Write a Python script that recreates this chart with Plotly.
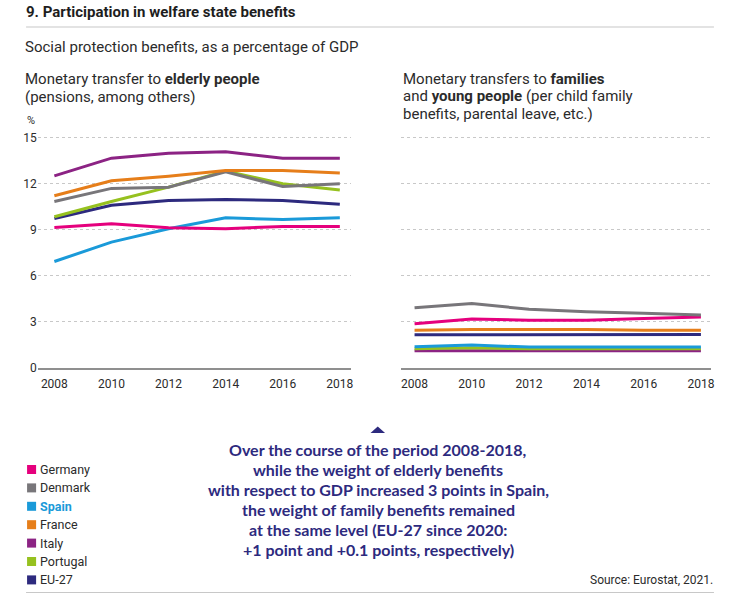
import plotly.graph_objects as go

# target picture is 729x600; the photographed area comes out about 735x609,
# so the figure is made that size and every position is given as a fraction of 729x600
REF_W, REF_H = 729, 600
W, H = 735, 609
Y_NUDGE = 1.5  # small downward drift seen in the photographs

years = [2008, 2010, 2012, 2014, 2016, 2018]
countries = ["Germany", "Denmark", "Spain", "France", "Italy", "Portugal", "EU-27"]
colors = ["#e5007d", "#78767a", "#1a9ad9", "#e67e1a", "#8c2384", "#96c11f", "#2d2a7e"]

# elderly people, % of GDP
elderly_germany = [9.15, 9.39, 9.13, 9.07, 9.22, 9.22]
elderly_denmark = [10.85, 11.7, 11.78, 12.78, 11.83, 12.0]
elderly_spain = [6.93, 8.2, 9.07, 9.78, 9.67, 9.78]
elderly_france = [11.22, 12.2, 12.5, 12.87, 12.87, 12.7]
elderly_italy = [12.52, 13.67, 14.0, 14.09, 13.67, 13.67]
elderly_portugal = [9.85, 10.85, 11.78, 12.83, 12.0, 11.6]
elderly_eu27 = [9.74, 10.6, 10.91, 10.98, 10.91, 10.67]

# families and young people, % of GDP
family_germany = [2.88, 3.19, 3.1, 3.1, 3.21, 3.32]
family_denmark = [3.91, 4.19, 3.82, 3.65, 3.56, 3.45]
family_spain = [1.38, 1.48, 1.35, 1.35, 1.35, 1.35]
family_france = [2.45, 2.5, 2.5, 2.5, 2.45, 2.45]
family_italy = [1.11, 1.12, 1.13, 1.13, 1.12, 1.12]
family_portugal = [1.24, 1.3, 1.24, 1.24, 1.24, 1.24]
family_eu27 = [2.16, 2.17, 2.17, 2.17, 2.17, 2.17]

y_ticks = [0, 3, 6, 9, 12, 15]

elderly = [elderly_germany, elderly_denmark, elderly_spain, elderly_france,
           elderly_italy, elderly_portugal, elderly_eu27]
family = [family_germany, family_denmark, family_spain, family_france,
          family_italy, family_portugal, family_eu27]


# pixel in the target picture -> paper coords
def px(x):
    return x / REF_W


def py(y):
    return 1 - (y - Y_NUDGE) / REF_H


FONT = "Roboto"
TXT = "#2b2b2b"

fig = go.Figure()

for i in [2, 0, 6, 5, 1, 3, 4]:
    fig.add_trace(go.Scatter(x=years, y=elderly[i], mode="lines", name=countries[i],
                             line=dict(color=colors[i], width=3), xaxis="x", yaxis="y",
                             showlegend=False))
for i in [4, 5, 2, 6, 3, 0, 1]:
    fig.add_trace(go.Scatter(x=years, y=family[i], mode="lines", name=countries[i],
                             line=dict(color=colors[i], width=3), xaxis="x2", yaxis="y2",
                             showlegend=False))

y_top = 137.3 - 0.3 * 15.33
axis_common = dict(tickvals=years, showgrid=False,
                   showline=True, linecolor="#8f8f8f", linewidth=1.5,
                   ticks="", ticklabelstandoff=4,
                   tickfont=dict(family=FONT, size=12, color=TXT), fixedrange=True)
yaxis_common = dict(range=[0, 15.3], tickvals=y_ticks, showgrid=True, gridcolor="#c8c8c8",
                    griddash="dot", gridwidth=1, zeroline=False, ticks="",
                    tickfont=dict(family=FONT, size=12, color=TXT), fixedrange=True)

fig.update_layout(
    width=W, height=H,
    margin=dict(l=0, r=0, t=0, b=0, pad=0),
    paper_bgcolor="white", plot_bgcolor="white",
    showlegend=False,
    xaxis=dict(domain=[px(37.7), px(350)], anchor="y", range=[2007.42, 2018.39], **axis_common),
    yaxis=dict(domain=[py(367.3), py(y_top)], anchor="x", showticklabels=True, **yaxis_common),
    xaxis2=dict(domain=[px(400), px(709)], anchor="y2", range=[2007.53, 2018.35], **axis_common),
    yaxis2=dict(domain=[py(367.3), py(y_top)], anchor="x2", showticklabels=False, **yaxis_common),
)


def note(x, y, text, size=15, color=TXT, xanchor="left", yanchor="middle", family=FONT, align="left"):
    fig.add_annotation(x=px(x), y=py(y), xref="paper", yref="paper", text=text,
                       showarrow=False, xanchor=xanchor, yanchor=yanchor, align=align,
                       font=dict(family=family, size=size, color=color), borderpad=0)


note(25, 12, "<b>9. Participation in welfare state benefits</b>", size=15, color="#1e1e1e")
fig.add_shape(type="line", xref="paper", yref="paper", x0=px(26), x1=px(712), y0=py(26.5), y1=py(26.5),
              line=dict(color="#c8c8c8", width=1.2))
note(24, 46, "Social protection benefits, as a percentage of GDP")

left_title = ["Monetary transfer to <b>elderly people</b>", "(pensions, among others)"]
for k, line in enumerate(left_title):
    note(24, 79 + k * 17.5, line)
right_title = ["Monetary transfers to <b>families</b>",
               "and <b>young people</b> (per child family",
               "benefits, parental leave, etc.)"]
for k, line in enumerate(right_title):
    note(401, 78.5 + k * 17.5, line)
note(26, 120, "%", size=11)

# legend
for k, name in enumerate(countries):
    yc = 469 + k * 18.4
    fig.add_shape(type="rect", xref="paper", yref="paper", x0=px(27), x1=px(36),
                  y0=py(yc + 4.5), y1=py(yc - 4.5), fillcolor=colors[k], line=dict(width=0))
    label = "<b>%s</b>" % name if name == "Spain" else name
    note(39, yc, label, size=12.5, color=colors[k] if name == "Spain" else TXT)

# callout
fig.add_shape(type="path", xref="paper", yref="paper",
              path="M %f,%f L %f,%f L %f,%f Z" % (px(369.5), py(432.5), px(384), py(432.5),
                                                  px(376.7), py(426)),
              fillcolor="#2d2a7e", line=dict(width=0))
callout = ["Over the course of the period 2008-2018,",
           "while the weight of elderly benefits",
           "with respect to GDP increased 3 points in Spain,",
           "the weight of family benefits remained",
           "at the same level (EU-27 since 2020:",
           "+1 point and +0.1 points, respectively)"]
for k, line in enumerate(callout):
    note(377, 448.5 + k * 20, "<b>%s</b>" % line, size=16, color="#2d2a7e", xanchor="center",
         family="Lato", align="center")

note(712, 579, "Source: Eurostat, 2021.", size=12, xanchor="right")
fig.add_shape(type="line", xref="paper", yref="paper", x0=px(26), x1=px(712), y0=py(592), y1=py(592),
              line=dict(color="#c8c8c8", width=1.2))

# drop the default 8px body margin so the figure starts at the window corner
fig.write_html("out.html", config={"displayModeBar": False},
               post_script="document.body.style.margin='0';")
